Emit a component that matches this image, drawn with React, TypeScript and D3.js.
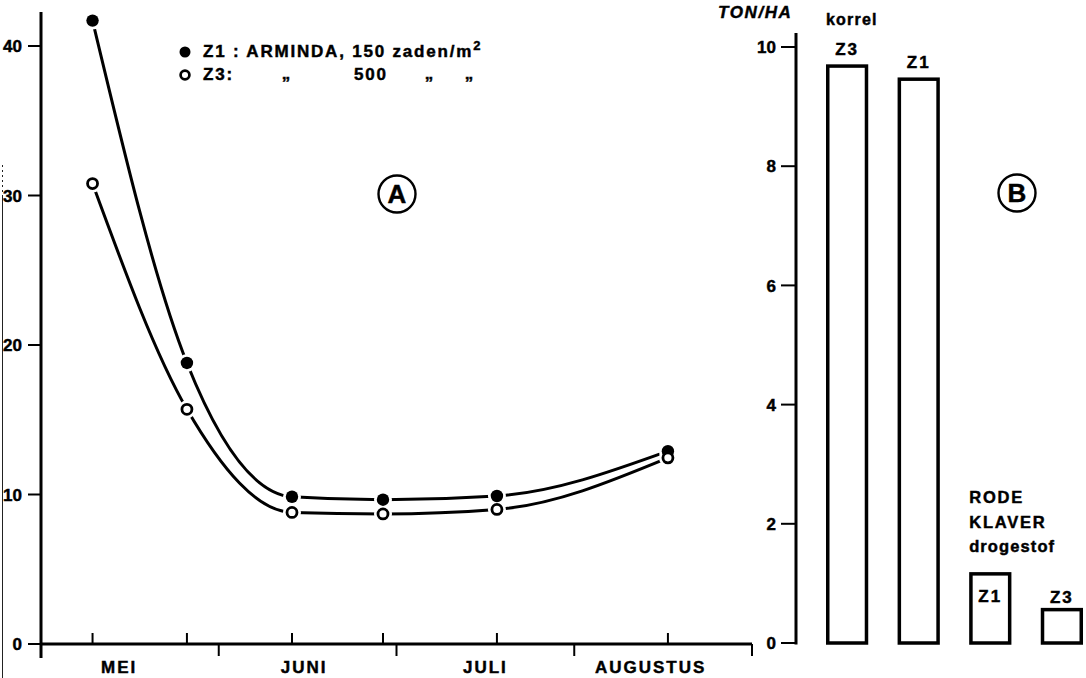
import React from "react";
import * as d3 from "d3";

// ---------- data ----------
const months = ["MEI", "JUNI", "JULI", "AUGUSTUS"];
const monthLabelPos = [0.44, 1.48, 2.5, 3.43];
const sampleMonths = [0.29, 0.821, 1.412, 1.924, 2.565, 3.527];
const z1Values = [41.7, 18.8, 9.85, 9.65, 9.9, 12.9];
const z3Values = [30.8, 15.7, 8.8, 8.7, 9.0, 12.45];
const yTicksA = [0, 10, 20, 30, 40];

const barLabels = ["Z3", "Z1", "Z1", "Z3"];
const barValues = [9.68, 9.46, 1.16, 0.56];
const yTicksB = [0, 2, 4, 6, 8, 10];

const FONT = "'Liberation Sans', Arial, Helvetica, sans-serif";

export default function App() {
  // ---- chart A scales ----
  const xA = d3.scaleLinear().domain([0, 4]).range([41, 752]);
  const yA = d3.scaleLinear().domain([0, 40]).range([644, 46]);

  const line = d3
    .line<number>()
    .x((_, i) => xA(sampleMonths[i]))
    .y((d) => yA(d))
    .curve(d3.curveMonotoneX);

  // ---- chart B scales ----
  const yB = d3.scaleLinear().domain([0, 10]).range([643, 47]);
  const xB = d3
    .scaleBand<number>()
    .domain(barValues.map((_, i) => i))
    .range([826, 1083])
    .paddingInner(0.41)
    .paddingOuter(0);

  const sw = 3.5;
  const bold = { fontFamily: FONT, fontWeight: 700, stroke: "#000", strokeWidth: 0.45 } as const;
  const labelStyle = { ...bold, fontSize: 17, letterSpacing: 1.8 } as const;
  const tickStyle = { ...bold, fontSize: 17 } as const;

  return (
    <svg
      width={1086}
      height={678}
      style={{ position: "absolute", left: 0, top: 0, background: "#fff" }}
    >
      <rect x={0} y={0} width={1086} height={678} fill="#fff" />

      {/* scan edge */}
      <line x1={2.5} x2={2.5} y1={165} y2={195} stroke="#222" strokeWidth={1} strokeDasharray="2 3" />
      <line x1={2.5} x2={2.5} y1={195} y2={678} stroke="#222" strokeWidth={1} />

      {/* ===== Chart A ===== */}
      <line x1={41} x2={41} y1={12} y2={658} stroke="#000" strokeWidth={3} />
      <line x1={41} x2={752} y1={644} y2={644} stroke="#000" strokeWidth={3} />
      {yTicksA.map((t) => (
        <g key={t}>
          <line x1={28} x2={41} y1={yA(t)} y2={yA(t)} stroke="#000" strokeWidth={2} />
          <text x={22} y={yA(t)} dy="0.36em" textAnchor="end" style={tickStyle}>
            {t}
          </text>
        </g>
      ))}
      {sampleMonths.map((m, i) => (
        <line key={i} x1={xA(m)} x2={xA(m)} y1={633} y2={644} stroke="#000" strokeWidth={2} />
      ))}
      {[1, 2, 3, 4].map((b) => (
        <line key={b} x1={xA(b)} x2={xA(b)} y1={644} y2={656} stroke="#000" strokeWidth={2} />
      ))}
      {months.map((m, i) => (
        <text key={m} x={xA(monthLabelPos[i])} y={673} textAnchor="middle" style={{ ...labelStyle, letterSpacing: 2 }}>
          {m}
        </text>
      ))}

      <path d={line(z1Values) || ""} fill="none" stroke="#000" strokeWidth={3} />
      <path d={line(z3Values) || ""} fill="none" stroke="#000" strokeWidth={3} />
      {/* halos */}
      {z1Values.map((v, i) => (
        <circle key={"h1" + i} cx={xA(sampleMonths[i])} cy={yA(v)} r={9} fill="#fff" />
      ))}
      {z3Values.map((v, i) => (
        <circle key={"h3" + i} cx={xA(sampleMonths[i])} cy={yA(v)} r={9} fill="#fff" />
      ))}
      {z1Values.map((v, i) => (
        <circle key={"m1" + i} cx={xA(sampleMonths[i])} cy={yA(v)} r={6.2} fill="#000" />
      ))}
      {z3Values.map((v, i) => (
        <circle
          key={"m3" + i}
          cx={xA(sampleMonths[i])}
          cy={yA(v)}
          r={5}
          fill="#fff"
          stroke="#000"
          strokeWidth={2.8}
        />
      ))}

      {/* legend */}
      <circle cx={185} cy={52} r={5.5} fill="#000" />
      <circle cx={185} cy={75} r={4.4} fill="#fff" stroke="#000" strokeWidth={2.7} />
      <text x={203} y={57} style={labelStyle}>
        Z1 : ARMINDA, 150 zaden/m
        <tspan dy={-7} style={{ fontSize: 13, letterSpacing: 0 }}>2</tspan>
      </text>
      <text x={203} y={80} style={labelStyle}>Z3:</text>
      <text x={287} y={79} textAnchor="middle" style={labelStyle}>„</text>
      <text x={354} y={80} style={labelStyle}>500</text>
      <text x={430} y={79} textAnchor="middle" style={labelStyle}>„</text>
      <text x={470} y={79} textAnchor="middle" style={labelStyle}>„</text>

      {/* A */}
      <circle cx={397} cy={194} r={18.5} fill="none" stroke="#000" strokeWidth={2.4} />
      <text x={397} y={194} dy="0.36em" textAnchor="middle" style={{ ...bold, fontSize: 26 }}>
        A
      </text>

      {/* ===== Chart B ===== */}
      <text x={718} y={18} style={{ ...bold, fontStyle: "italic", fontSize: 17, letterSpacing: 1.6 }}>
        TON/HA
      </text>
      <line x1={796} x2={796} y1={33} y2={644.5} stroke="#000" strokeWidth={3} />
      {yTicksB.map((t) => (
        <g key={t}>
          <line x1={781} x2={796} y1={yB(t)} y2={yB(t)} stroke="#000" strokeWidth={2} />
          <text x={776} y={yB(t)} dy="0.36em" textAnchor="end" style={tickStyle}>
            {t}
          </text>
        </g>
      ))}

      {barValues.map((v, i) => {
        const x0 = xB(i) as number;
        const w = xB.bandwidth();
        return (
          <rect
            key={i}
            x={x0 + sw / 2}
            y={yB(v)}
            width={w - sw}
            height={yB(0) - yB(v)}
            fill="#fff"
            stroke="#000"
            strokeWidth={sw}
          />
        );
      })}
      {barLabels.map((l, i) => {
        const cx = (xB(i) as number) + xB.bandwidth() / 2;
        const inside = i === 2;
        const y = inside ? yB(barValues[i]) + 28 : yB(barValues[i]) - (i < 2 ? 11 : 7);
        return (
          <text key={i} x={cx} y={y} textAnchor="middle" style={{ ...labelStyle, letterSpacing: 2 }}>
            {l}
          </text>
        );
      })}
      <text x={xB(0) as number} y={25} style={{ ...labelStyle, fontSize: 16, letterSpacing: 1.2 }}>
        korrel
      </text>
      <text x={xB(2) as number} y={503} style={{ ...labelStyle, fontSize: 16.5, letterSpacing: 1.8 }}>RODE</text>
      <text x={xB(2) as number} y={528} style={{ ...labelStyle, fontSize: 16.5, letterSpacing: 1.8 }}>KLAVER</text>
      <text x={xB(2) as number} y={552} style={{ ...labelStyle, fontSize: 16.5, letterSpacing: 1.1 }}>drogestof</text>

      {/* B */}
      <circle cx={1017} cy={193} r={18.5} fill="none" stroke="#000" strokeWidth={2.4} />
      <text x={1017} y={193} dy="0.36em" textAnchor="middle" style={{ ...bold, fontSize: 26 }}>
        B
      </text>
    </svg>
  );
}
